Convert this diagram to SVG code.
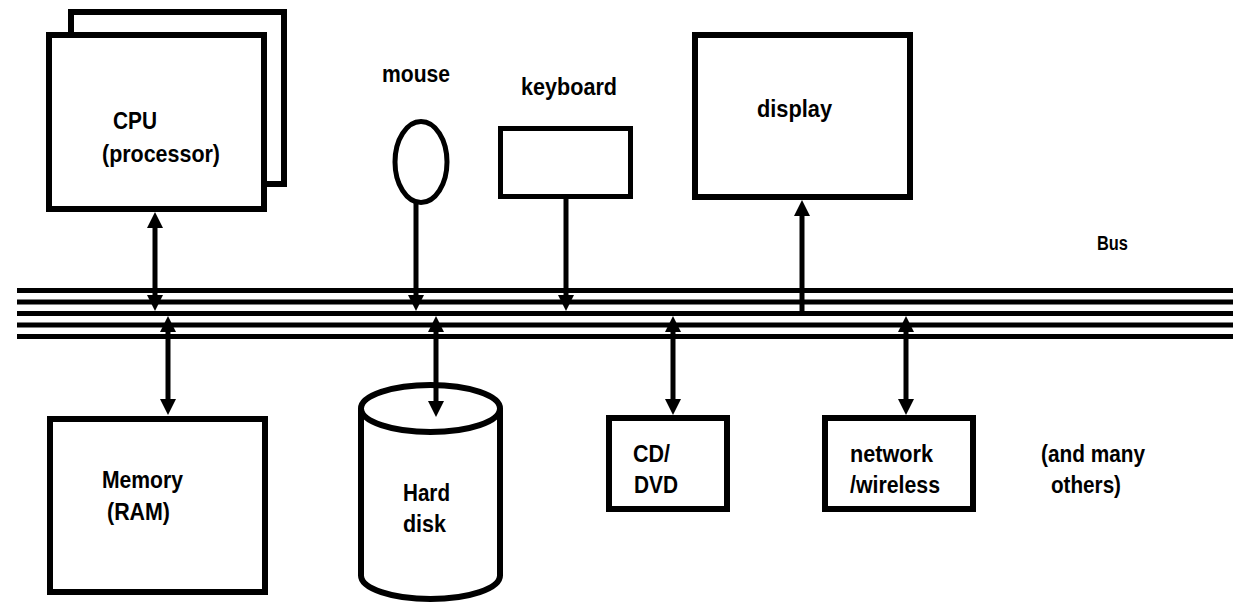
<svg xmlns="http://www.w3.org/2000/svg" width="1236" height="604" viewBox="0 0 1236 604">
<style>
  .box { fill: #fff; stroke: #000; stroke-width: 6; }
  .thin { fill: #fff; stroke: #000; stroke-width: 5; }
  .bus { stroke: #000; stroke-width: 5; }
  .conn { stroke: #000; stroke-width: 5; fill: none; }
  .lbl { font-family: "Liberation Sans", Arial, sans-serif; font-weight: bold; font-size: 23px; fill: #000; }
  .small { font-size: 20px; }
</style>
<defs>
  <marker id="ah" viewBox="0 0 16 16" refX="6" refY="8" markerWidth="16" markerHeight="16" markerUnits="userSpaceOnUse" orient="auto-start-reverse">
    <path d="M0,0 L16,8 L0,16 z" fill="#000"/>
  </marker>
</defs>
<rect width="1236" height="604" fill="#fff"/>

<g id="bus">
  <line class="bus" x1="17" y1="290.5" x2="1233" y2="290.5"/>
  <line class="bus" x1="17" y1="302" x2="1233" y2="302"/>
  <line class="bus" x1="17" y1="313.5" x2="1233" y2="313.5"/>
  <line class="bus" x1="17" y1="325" x2="1233" y2="325"/>
  <line class="bus" x1="17" y1="336.5" x2="1233" y2="336.5"/>
  <text class="lbl small" x="1097" y="250" textLength="31" lengthAdjust="spacingAndGlyphs">Bus</text>
</g>

<g id="cpu">
  <path d="M71,35 V12 H284 V184 H264" fill="none" stroke="#000" stroke-width="6"/>
  <rect class="box" x="49" y="35" width="215" height="174"/>
  <text class="lbl" x="113" y="129" textLength="44" lengthAdjust="spacingAndGlyphs">CPU</text>
  <text class="lbl" x="102" y="162" textLength="118" lengthAdjust="spacingAndGlyphs">(processor)</text>
</g>

<g id="mouse">
  <text class="lbl" x="382" y="82" textLength="68" lengthAdjust="spacingAndGlyphs">mouse</text>
  <ellipse class="thin" cx="421" cy="162" rx="26" ry="40.5"/>
</g>

<g id="keyboard">
  <text class="lbl" x="521" y="95" textLength="96" lengthAdjust="spacingAndGlyphs">keyboard</text>
  <rect class="thin" x="500.5" y="128.5" width="130" height="68"/>
</g>

<g id="display">
  <rect class="box" x="695" y="35" width="215" height="162"/>
  <text class="lbl" x="757" y="117" textLength="75" lengthAdjust="spacingAndGlyphs">display</text>
</g>

<g id="memory">
  <rect class="box" x="50" y="419" width="215" height="173"/>
  <text class="lbl" x="102" y="488" textLength="81" lengthAdjust="spacingAndGlyphs">Memory</text>
  <text class="lbl" x="107" y="520" textLength="63" lengthAdjust="spacingAndGlyphs">(RAM)</text>
</g>

<g id="harddisk">
  <path d="M361,408.5 V575.5 A69.5,23.5 0 0 0 500,575.5 V408.5" class="box"/>
  <ellipse class="box" cx="430.5" cy="408.5" rx="69.5" ry="23.5"/>
  <text class="lbl" x="403" y="501" textLength="47" lengthAdjust="spacingAndGlyphs">Hard</text>
  <text class="lbl" x="403" y="532" textLength="43" lengthAdjust="spacingAndGlyphs">disk</text>
</g>

<g id="cddvd">
  <rect class="box" x="609" y="418" width="118" height="91"/>
  <text class="lbl" x="633" y="462" textLength="37" lengthAdjust="spacingAndGlyphs">CD/</text>
  <text class="lbl" x="634" y="493" textLength="44" lengthAdjust="spacingAndGlyphs">DVD</text>
</g>

<g id="network">
  <rect class="box" x="825" y="418" width="148" height="91"/>
  <text class="lbl" x="850" y="462" textLength="83" lengthAdjust="spacingAndGlyphs">network</text>
  <text class="lbl" x="850" y="493" textLength="90" lengthAdjust="spacingAndGlyphs">/wireless</text>
</g>

<g id="others">
  <text class="lbl" x="1041" y="462" textLength="104" lengthAdjust="spacingAndGlyphs">(and many</text>
  <text class="lbl" x="1051" y="493" textLength="70" lengthAdjust="spacingAndGlyphs">others)</text>
</g>

<g id="connectors">
  <line class="conn" x1="155" y1="222" x2="155" y2="301" marker-start="url(#ah)" marker-end="url(#ah)"/>
  <line class="conn" x1="168" y1="326" x2="168" y2="405" marker-start="url(#ah)" marker-end="url(#ah)"/>
  <line class="conn" x1="416" y1="203" x2="416" y2="301" marker-end="url(#ah)"/>
  <line class="conn" x1="436" y1="326" x2="436" y2="407" marker-start="url(#ah)" marker-end="url(#ah)"/>
  <line class="conn" x1="566" y1="199" x2="566" y2="301" marker-end="url(#ah)"/>
  <line class="conn" x1="673" y1="326" x2="673" y2="405" marker-start="url(#ah)" marker-end="url(#ah)"/>
  <line class="conn" x1="802" y1="312" x2="802" y2="210" marker-end="url(#ah)"/>
  <line class="conn" x1="906" y1="326" x2="906" y2="405" marker-start="url(#ah)" marker-end="url(#ah)"/>
</g>
</svg>
